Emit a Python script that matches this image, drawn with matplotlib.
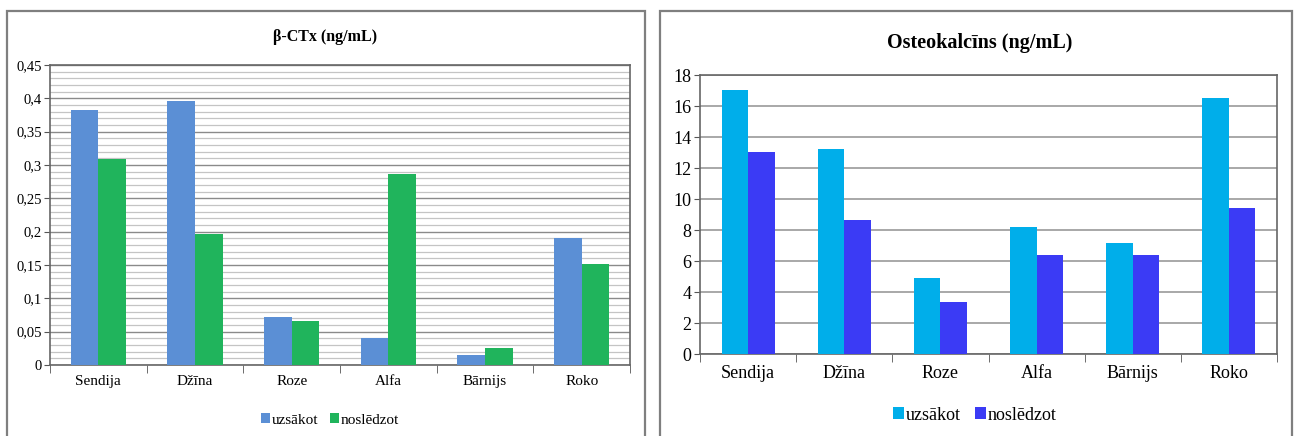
import matplotlib
matplotlib.use("Agg")
import matplotlib.pyplot as plt
import numpy as np
from matplotlib.patches import Rectangle
from matplotlib.ticker import MultipleLocator, FuncFormatter

names = ["Sendija", "Džīna", "Roze", "Alfa", "Bārnijs", "Roko"]
series = ["uzsākot", "noslēdzot"]

ctx_start = [0.383, 0.396, 0.072, 0.041, 0.015, 0.190]
ctx_end = [0.309, 0.196, 0.066, 0.286, 0.026, 0.152]

osteo_start = [17.05, 13.25, 4.91, 8.2, 7.16, 16.54]
osteo_end = [13.0, 8.65, 3.33, 6.41, 6.41, 9.39]

plt.rcParams["font.family"] = ["Liberation Serif", "DejaVu Serif"]

fig = plt.figure(figsize=(12.98, 4.36), dpi=100)
W, H = 1298, 436


def px(x0, y0, x1, y1):
    # pixel box (left, top, right, bottom) -> figure fraction rect
    return [x0 / W, 1 - y1 / H, (x1 - x0) / W, (y1 - y0) / H]


# panel borders
for x0, x1 in [(7, 645), (660, 1292)]:
    fig.patches.append(Rectangle((x0 / W, -0.05), (x1 - x0) / W, 1 - 11 / H + 0.05,
                                 transform=fig.transFigure, fill=False,
                                 ec="#7f7f7f", lw=1.6))


def grouped(ax, a, b, colors, bw):
    x = np.arange(len(names))
    ax.bar(x - bw / 2, a, bw, color=colors[0], label=series[0], zorder=3)
    ax.bar(x + bw / 2, b, bw, color=colors[1], label=series[1], zorder=3)
    ax.set_xlim(-0.5, len(names) - 0.5)
    ax.set_xticks(x)
    ax.set_xticklabels(names)
    ax.tick_params(axis="x", length=0)
    # category separator ticks along the x axis
    ax.set_xticks(np.arange(len(names) + 1) - 0.5, minor=True)
    ax.tick_params(axis="x", which="minor", length=6, color="#555555", direction="out")
    for s in ax.spines.values():
        s.set_color("#666666")
        s.set_linewidth(1.2)


comma = FuncFormatter(lambda v, p: ("%g" % round(v, 3)).replace(".", ","))

# left: beta-CTx
ax1 = fig.add_axes(px(50, 65, 630, 365))
grouped(ax1, ctx_start, ctx_end, ["#5B8FD5", "#20B45C"], 0.285)
ax1.set_ylim(0, 0.45)
ax1.yaxis.set_major_locator(MultipleLocator(0.05))
ax1.yaxis.set_minor_locator(MultipleLocator(0.01))
ax1.yaxis.set_major_formatter(comma)
ax1.grid(axis="y", which="major", color="#8a8a8a", lw=1.0, zorder=0)
ax1.grid(axis="y", which="minor", color="#c4c4c4", lw=0.9, zorder=0)
ax1.tick_params(axis="y", which="minor", length=0)
ax1.tick_params(axis="y", which="major", length=4, color="#555555", labelsize=10.5, pad=2)
ax1.tick_params(axis="x", labelsize=11, pad=7)
fig.text(325 / W, 1 - 37 / H, "β-CTx (ng/mL)", ha="center", va="center",
         fontsize=11.5, fontweight="bold")
ax1.legend(loc="center", bbox_to_anchor=(330 / W, 1 - 420 / H), bbox_transform=fig.transFigure,
           ncol=2, frameon=False, fontsize=11, handlelength=0.6, handleheight=0.6,
           handletextpad=0.1, columnspacing=0.8)

# right: osteocalcin
ax2 = fig.add_axes(px(700, 75, 1277, 354))
grouped(ax2, osteo_start, osteo_end, ["#00AEEA", "#3B3BF5"], 0.275)
ax2.set_ylim(0, 18)
ax2.yaxis.set_major_locator(MultipleLocator(2))
ax2.grid(axis="y", color="#9a9a9a", lw=1.2, zorder=0)
ax2.tick_params(axis="y", length=4, color="#555555", labelsize=13, pad=2)
ax2.tick_params(axis="x", labelsize=13, pad=8)
fig.text(980 / W, 1 - 43 / H, "Osteokalcīns (ng/mL)", ha="center", va="center",
         fontsize=14.5, fontweight="bold")
ax2.legend(loc="center", bbox_to_anchor=(975 / W, 1 - 415 / H), bbox_transform=fig.transFigure,
           ncol=2, frameon=False, fontsize=13, handlelength=0.6, handleheight=0.6,
           handletextpad=0.1, columnspacing=0.8)

fig.savefig("out.png", dpi=100)
